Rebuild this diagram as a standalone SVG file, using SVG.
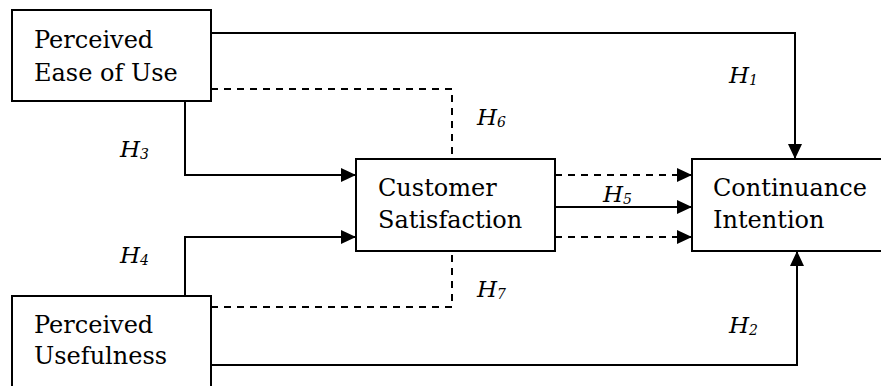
<svg xmlns="http://www.w3.org/2000/svg" width="881" height="386" viewBox="0 0 881 386">
<style>
.box{fill:#fff;stroke:#000;stroke-width:2}
.ln{fill:none;stroke:#000;stroke-width:2}
.dash{stroke-dasharray:7 6}
.t{font-family:"DejaVu Serif","Liberation Serif",serif;font-size:24px;fill:#000}
.h{font-family:"DejaVu Serif","Liberation Serif",serif;font-style:italic;font-size:23px;fill:#000}
.s{font-size:14px}
</style>
<defs>
<marker id="ah" markerUnits="userSpaceOnUse" markerWidth="15" markerHeight="14" refX="15" refY="7" orient="auto">
<path d="M0,0 L15,7 L0,14 z" fill="#000"/>
</marker>
</defs>
<g id="connectors">
<path class="ln" d="M211,33 H795 V159" marker-end="url(#ah)"/>
<path class="ln dash" d="M211,89 H452 V159"/>
<path class="ln" d="M185,101 V175 H356" marker-end="url(#ah)"/>
<path class="ln" d="M185,296 V237 H356" marker-end="url(#ah)"/>
<path class="ln dash" d="M211,307 H452 V251"/>
<path class="ln" d="M211,365 H797 V251" marker-end="url(#ah)"/>
<path class="ln dash" d="M555,175 H692" marker-end="url(#ah)"/>
<path class="ln" d="M555,207 H692" marker-end="url(#ah)"/>
<path class="ln dash" d="M555,237 H692" marker-end="url(#ah)"/>
</g>
<g id="peou">
<rect class="box" x="12" y="10" width="199" height="91"/>
<text class="t" x="34" y="48">Perceived</text>
<text class="t" x="34" y="81">Ease of Use</text>
</g>
<g id="pu">
<rect class="box" x="12" y="296" width="199" height="110"/>
<text class="t" x="34" y="333">Perceived</text>
<text class="t" x="34" y="364">Usefulness</text>
</g>
<g id="cs">
<rect class="box" x="356" y="159" width="199" height="92"/>
<text class="t" x="378" y="196">Customer</text>
<text class="t" x="378" y="228">Satisfaction</text>
</g>
<g id="ci">
<rect class="box" x="692" y="159" width="220" height="92"/>
<text class="t" x="713" y="196">Continuance</text>
<text class="t" x="713" y="228">Intention</text>
</g>
<g id="labels">
<text class="h" x="729" y="83">H<tspan class="s" dy="2">1</tspan></text>
<text class="h" x="729" y="333">H<tspan class="s" dy="2">2</tspan></text>
<text class="h" x="120" y="157">H<tspan class="s" dy="2">3</tspan></text>
<text class="h" x="120" y="263">H<tspan class="s" dy="2">4</tspan></text>
<text class="h" x="603" y="202">H<tspan class="s" dy="2">5</tspan></text>
<text class="h" x="477" y="125">H<tspan class="s" dy="2">6</tspan></text>
<text class="h" x="477" y="297">H<tspan class="s" dy="2">7</tspan></text>
</g>
</svg>
